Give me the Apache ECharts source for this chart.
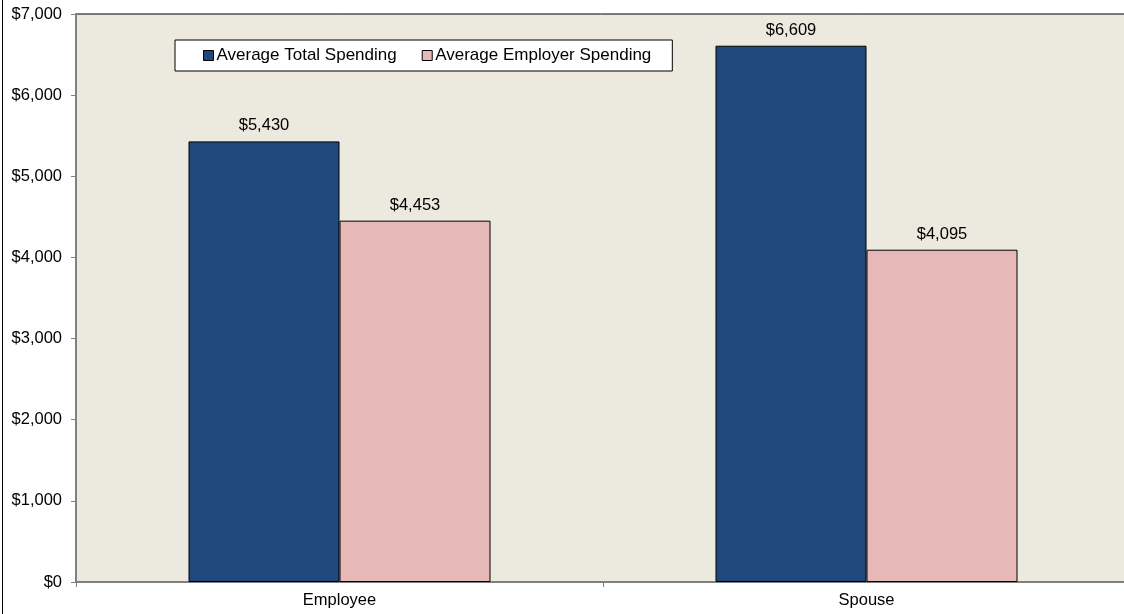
<!DOCTYPE html>
<html><head><meta charset="utf-8">
<script src="https://cdn.jsdelivr.net/npm/echarts@6/dist/echarts.min.js"></script>
<style>html,body{margin:0;padding:0;background:#fff}#c{width:1124px;height:614px}</style>
</head><body><div id="c"></div>
<script>
const categories = ['Employee', 'Spouse'];
const totalSpending = [5430, 6609];
const employerSpending = [4453, 4095];
const seriesNames = ['Average Total Spending', 'Average Employer Spending'];

const chart = echarts.init(document.getElementById('c'));
const fmt = v => '$' + v.toLocaleString('en-US');
const font = 'Liberation Sans, Arial, sans-serif';
chart.setOption({
  animation: false,
  textStyle: {fontFamily: font},
  grid: {left: 76, top: 14, width: 1054, height: 568, outerBoundsMode: 'none', containLabel: false,
         show: true, backgroundColor: '#ECE9DF', borderColor: '#000', borderWidth: 1},
  legend: {
    left: 175, top: 40,
    padding: [7, 21, 7, 28],
    backgroundColor: '#fff', borderColor: '#000', borderWidth: 1,
    itemWidth: 10, itemHeight: 10, itemGap: 25,
    itemStyle: {borderColor: '#000', borderWidth: 1},
    textStyle: {fontSize: 17, color: '#000', fontFamily: font, padding: [0, 0, 0, -2]},
    icon: 'rect',
    data: seriesNames
  },
  xAxis: {
    type: 'category', data: categories,
    axisLine: {lineStyle: {color: '#808080', width: 2}},
    axisTick: {show: true, length: 5, lineStyle: {color: '#808080'}},
    axisLabel: {fontSize: 16.5, color: '#000', margin: 10}
  },
  yAxis: {
    type: 'value', min: 0, max: 7000, interval: 1000,
    axisLine: {show: true, lineStyle: {color: '#808080', width: 2}},
    axisTick: {show: true, length: 5, lineStyle: {color: '#808080'}},
    splitLine: {show: false},
    axisLabel: {fontSize: 16.5, color: '#000', margin: 14, formatter: fmt}
  },
  series: [
    {name: seriesNames[0], type: 'bar', data: totalSpending, barWidth: 151, barGap: '0%',
     itemStyle: {color: '#1F497C', borderColor: '#000', borderWidth: 1},
     label: {show: true, position: 'top', distance: 7, fontSize: 16.5, color: '#000', formatter: p => fmt(p.value)}},
    {name: seriesNames[1], type: 'bar', data: employerSpending, barWidth: 151,
     itemStyle: {color: '#E6B8B7', borderColor: '#000', borderWidth: 1},
     label: {show: true, position: 'top', distance: 7, fontSize: 16.5, color: '#000', formatter: p => fmt(p.value)}}
  ],
  graphic: [{type: 'line', shape: {x1: 2.5, y1: 0, x2: 2.5, y2: 614}, style: {stroke: '#000', lineWidth: 1}}]
});
</script></body></html>
